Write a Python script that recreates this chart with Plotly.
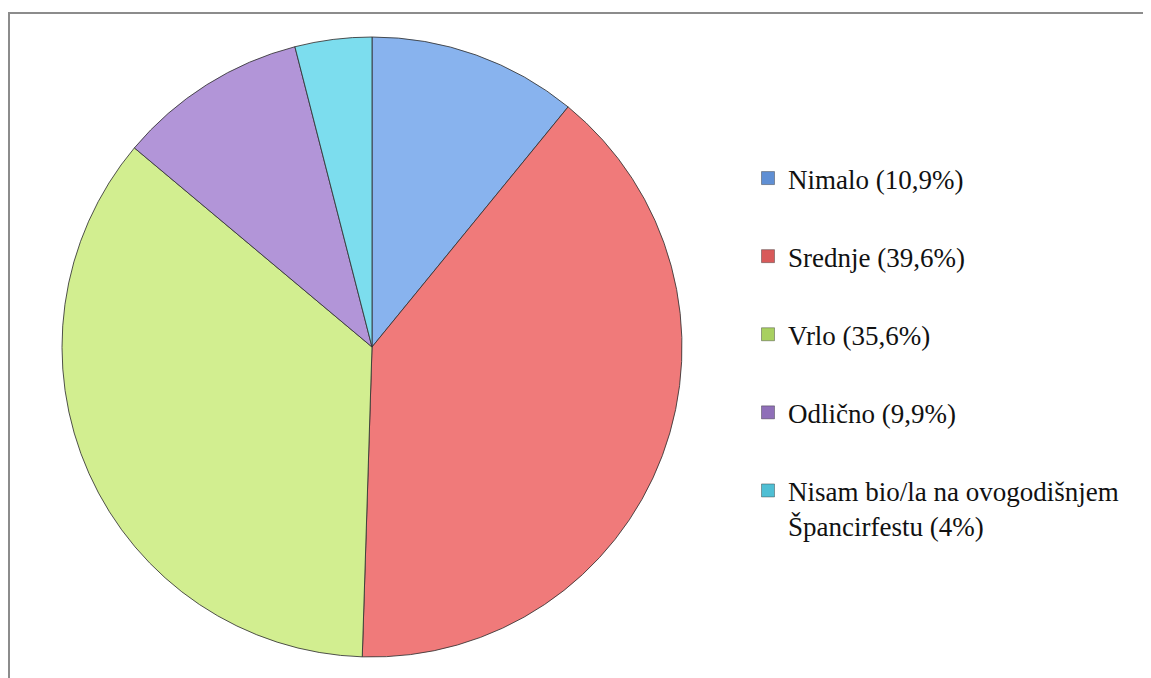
import plotly.graph_objects as go

labels = ["Nimalo (10,9%)", "Srednje (39,6%)", "Vrlo (35,6%)", "Odlično (9,9%)",
          "Nisam bio/la na ovogodišnjem<br>Špancirfestu (4%)"]
values = [10.9, 39.6, 35.6, 9.9, 4.0]
colors = ["#88B3EE", "#F07A7A", "#D2EE90", "#B295D8", "#7CDDEE"]
legend_colors = ["#5F8FD4", "#D85A5A", "#A8D060", "#8F6FB8", "#4FBFD4"]

W, H = 1151, 678
off = 8  # page body margin
cx, cy, r = 372 - off, 347 - off, 310

fig = go.Figure()
fig.add_trace(go.Pie(
    labels=labels, values=values, sort=False, direction="clockwise", rotation=0,
    marker=dict(colors=colors, line=dict(color="rgba(50,50,50,0.85)", width=1)),
    textinfo="none", hoverinfo="label+value", showlegend=False,
    domain=dict(x=[(cx - r) / W, (cx + r) / W], y=[1 - (cy + r) / H, 1 - (cy - r) / H]),
))
for i, (lab, col) in enumerate(zip(labels, legend_colors)):
    fig.add_trace(go.Scatter(
        x=[None], y=[None], mode="markers", name=lab, legendgroup=f"g{i}",
        marker=dict(symbol="square", size=13, color=col,
                    line=dict(color="rgba(40,40,40,0.4)", width=1)),
    ))

fig.update_layout(
    width=W, height=H, margin=dict(l=0, r=0, t=0, b=0),
    paper_bgcolor="white", plot_bgcolor="white",
    xaxis=dict(visible=False), yaxis=dict(visible=False),
    legend=dict(x=740 / W, y=1 - 146 / H, xanchor="left", yanchor="top",
                font=dict(family="'Liberation Serif', 'DejaVu Serif', serif", size=27, color="#111"),
                tracegroupgap=40, valign="top", bgcolor="rgba(0,0,0,0)"),
    shapes=[dict(type="rect", xref="paper", yref="paper",
                 x0=1 / W, x1=1.01, y0=-0.01, y1=1 - 5 / H,
                 line=dict(color="#8C8C8C", width=2), layer="below")],
)
fig.write_html("out.html")
